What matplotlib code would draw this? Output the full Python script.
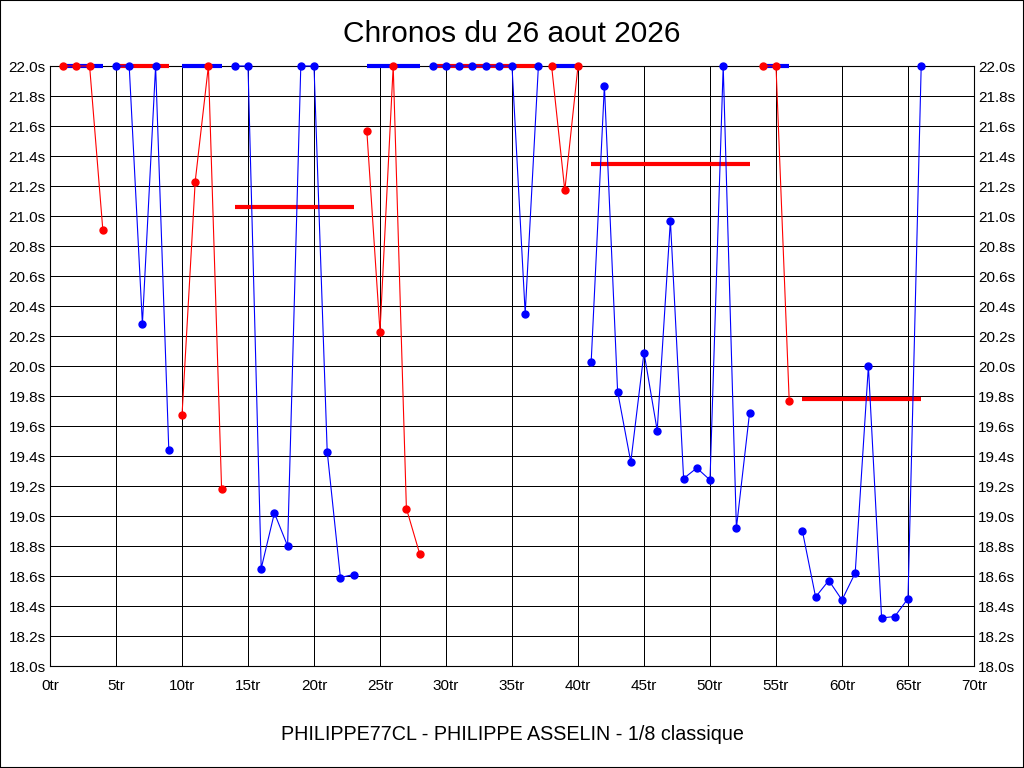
import matplotlib
matplotlib.use("Agg")
import matplotlib.pyplot as plt
from matplotlib.patches import Rectangle

plt.rcParams['font.family'] = ['Liberation Sans', 'DejaVu Sans']

# ---- data ----
title = "Chronos du 26 aout 2026"
xlabel = "PHILIPPE77CL - PHILIPPE ASSELIN - 1/8 classique"

laps = list(range(1, 67))
times = [22.0, 22.0, 22.0, 20.91,
         22.0, 22.0, 20.28, 22.0, 19.44,
         19.67, 21.23, 22.0, 19.18,
         22.0, 22.0, 18.65, 19.02, 18.80, 22.0, 22.0, 19.43, 18.59, 18.61,
         21.57, 20.23, 22.0, 19.05, 18.75,
         22.0, 22.0, 22.0, 22.0, 22.0, 22.0, 22.0, 20.35, 22.0,
         22.0, 21.17, 22.0,
         20.03, 21.87, 19.83, 19.36, 20.09, 19.57, 20.97, 19.25, 19.32, 19.24, 22.0, 18.92, 19.69,
         22.0, 22.0, 19.77,
         18.90, 18.46, 18.57, 18.44, 18.62, 20.00, 18.32, 18.33, 18.45, 22.0]

seg_start = [1, 5, 10, 14, 24, 29, 38, 41, 54, 57]
seg_end = [4, 9, 13, 23, 28, 37, 40, 53, 56, 66]
seg_avg = [22.0, 22.0, 22.0, 21.06, 22.0, 22.0, 22.0, 21.35, 22.0, 19.78]
seg_color = ['#FF0000', '#0000FF', '#FF0000', '#0000FF', '#FF0000',
             '#0000FF', '#FF0000', '#0000FF', '#FF0000', '#0000FF']
avg_color = ['#0000FF', '#FF0000', '#0000FF', '#FF0000', '#0000FF',
             '#FF0000', '#0000FF', '#FF0000', '#0000FF', '#FF0000']

x_ticks = list(range(0, 71, 5))
x_ticklabels = [f"{v}tr" for v in x_ticks]
y_ticks = [18.0 + 0.2 * i for i in range(21)]
y_ticklabels = [f"{v:.1f}s" for v in y_ticks]

# ---- figure ----
fig = plt.figure(figsize=(10.24, 7.68), dpi=100)
fig.patch.set_facecolor('white')
fig.patches.append(Rectangle((0, 0), 1, 1, transform=fig.transFigure,
                             fill=False, edgecolor='black', linewidth=1.5))

ax = fig.add_axes([50 / 1024, (768 - 666) / 768, 924 / 1024, 600 / 768])
ax.set_xlim(0, 70)
ax.set_ylim(18.0, 22.0)

ax.set_xticks(x_ticks)
ax.set_xticklabels(x_ticklabels, fontsize=11)
ax.set_yticks(y_ticks)
ax.set_yticklabels(y_ticklabels, fontsize=11)
ax.tick_params(axis='both', length=0)
ax.tick_params(axis='x', pad=9)
ax.tick_params(axis='y', pad=3, labelright=True, right=True)
ax.grid(True, color='black', linewidth=0.72, antialiased=False)
ax.set_axisbelow(True)
for s in ax.spines.values():
    s.set_color('black')
    s.set_linewidth(0.8)

for st, en, av, ac in zip(seg_start, seg_end, seg_avg, avg_color):
    ax.plot([st, en], [av, av], color=ac, linewidth=3.0, solid_capstyle='butt',
            zorder=3, clip_on=False)

for st, en, c in zip(seg_start, seg_end, seg_color):
    xs = laps[st - 1:en]
    ys = times[st - 1:en]
    ax.plot(xs, ys, color=c, linewidth=0.8, marker='o', markersize=5,
            zorder=4, clip_on=False)

fig.text(0.5, 1 - 34 / 768, title, ha='center', va='center', fontsize=21.5)
fig.text(0.5, 1 - 735 / 768, xlabel, ha='center', va='center', fontsize=14.2)

fig.savefig("out.png", dpi=100)
